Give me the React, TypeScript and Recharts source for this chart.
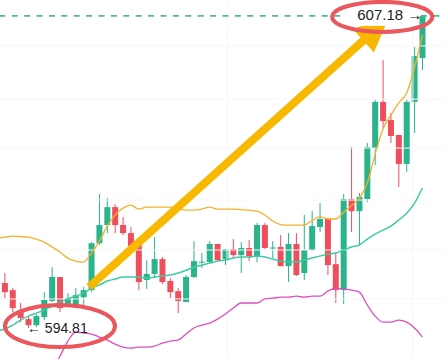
import {
  Bar,
  ComposedChart,
  Line,
  ReferenceDot,
  ReferenceLine,
  XAxis,
  YAxis,
} from "recharts";

// candles, oldest first
const opens = [
  596.59, 596.31, 595.52, 595.16, 594.92, 595.24, 595.88, 596.83, 595.72, 595.72,
  596.03, 596.31, 598.17, 598.89, 599.6, 598.89, 598.57, 598.1, 596.71, 596.95,
  597.54, 596.67, 596.27, 595.84, 596.83, 597.4, 597.42, 598.14, 597.54, 597.94,
  597.7, 597.98, 597.66, 598.89, 597.96, 598.02, 597.26, 598.14, 596.99, 597.9,
  598.81, 599.13, 597.34, 596.31, 599.92, 599.44, 599.92, 601.94, 603.77, 603.05,
  602.46, 601.31, 603.77, 605.51,
];
const highs = [
  596.99, 596.39, 595.8, 595.28, 595.36, 596.23, 597.22, 596.83, 596.19, 596.39,
  596.43, 598.21, 600.12, 599.96, 599.72, 599.21, 598.81, 598.1, 597.5, 598.41,
  597.62, 596.79, 596.39, 596.91, 598.25, 597.78, 598.25, 598.14, 597.94, 598.33,
  598.21, 598.29, 598.97, 598.97, 598.25, 598.49, 598.57, 598.57, 599.29, 599.44,
  599.76, 599.17, 597.78, 600.12, 601.98, 600.16, 602.14, 603.85, 605.43, 603.33,
  602.46, 603.85, 605.95, 607.18,
];
const lows = [
  595.99, 595.44, 595.04, 594.81, 594.84, 595.12, 595.84, 595.44, 595.64, 595.64,
  595.64, 596.23, 598.1, 598.57, 598.57, 598.49, 598.06, 596.31, 596.35, 596.79,
  596.55, 595.99, 595.4, 595.84, 596.79, 597.18, 597.38, 597.46, 597.3, 597.62,
  596.99, 597.46, 597.42, 597.94, 597.58, 597.26, 596.63, 596.87, 596.71, 597.86,
  598.61, 596.91, 595.8, 595.76, 598.61, 598.1, 599.8, 601.27, 602.73, 602.14,
  600.4, 600.99, 602.54, 605.03,
];
const closes = [
  596.23, 595.6, 595.2, 594.92, 595.28, 595.92, 596.83, 595.6, 595.99, 596.11,
  596.31, 598.17, 598.89, 599.6, 598.89, 598.57, 598.06, 596.63, 596.95, 597.54,
  596.63, 596.23, 595.88, 596.83, 597.46, 597.44, 598.14, 597.5, 597.94, 597.7,
  597.98, 597.66, 598.89, 597.98, 598.0, 597.26, 598.14, 596.91, 597.9, 598.85,
  599.13, 597.3, 596.31, 599.92, 599.44, 600.0, 601.98, 603.77, 603.01, 602.42,
  601.31, 603.77, 605.59, 607.18,
];

// overlay lines, one slot before the first candle
const orangeLine = [
  598.37, 598.41, 598.45, 598.43, 598.41, 598.33, 598.21, 598.02, 597.82, 597.58,
  597.46, 597.42, 597.78, 598.25, 598.85, 599.29, 599.56, 599.68, 599.52, 599.6,
  599.6, 599.6, 599.6, 599.56, 599.48, 599.48, 599.52, 599.6, 599.52, 599.52,
  599.52, 599.5, 599.48, 599.44, 599.29, 599.05, 598.91, 598.89, 598.89, 598.89,
  599.07, 599.21, 599.13, 599.13, 599.4, 599.66, 599.96, 600.55, 601.7, 602.7,
  603.25, 603.73, 604.12, 605.15, 606.42,
];
const tealLine = [
  594.69, 594.77, 594.92, 595.12, 595.28, 595.4, 595.52, 595.68, 595.84, 595.96,
  596.07, 596.19, 596.39, 596.51, 596.67, 596.75, 596.83, 596.83, 596.83, 596.79,
  596.83, 596.87, 596.91, 596.99, 597.1, 597.22, 597.3, 597.38, 597.46, 597.5,
  597.58, 597.62, 597.62, 597.66, 597.62, 597.54, 597.46, 597.42, 597.42, 597.5,
  597.58, 597.66, 597.74, 597.78, 597.9, 598.02, 598.1, 598.33, 598.53, 598.69,
  598.85, 599.09, 599.36, 599.76, 600.36,
];
const pinkLine = [
  null, null, null, null, null, null, 592.55, 593.18, 593.69, 594.29,
  594.65, 594.61, 594.57, 594.45, 594.33, 594.17, 594.05, 594.01, 594.05, 594.05,
  594.09, 594.21, 594.29, 594.33, 594.57, 594.81, 594.92, 595.0, 595.16, 595.36,
  595.6, 595.8, 595.8, 595.8, 595.96, 595.99, 596.03, 596.03, 596.07, 596.03,
  596.07, 596.07, 596.27, 596.39, 596.35, 596.31, 596.23, 595.72, 595.28, 595.04,
  595.04, 595.12, 595.04, 594.81, 594.45,
];

const gridPrices = [605.99, 603.88, 601.94, 599.88, 597.9, 595.96];
const gridSlots = [29.2, 52.8];

const highMark = 607.18;
const lowMark = 594.81;
const highLabelSlot = 48.9;
const lowLabelSlot = 8;
const arrowFrom = { x: 11.7, y: 596.43 };
const arrowTo = { x: 49.7, y: 607.1 };

const SLOTS = 58;
const GREEN = "#2bb38c";
const RED = "#ef4e5c";
const RING = "#ea575d";
const YELLOW = "#f9b800";
const FONT = "'Liberation Sans', Arial, sans-serif";

const rows = Array.from({ length: SLOTS }, (_, i) => {
  const k = i - 1;
  const has = k >= 0 && k < opens.length;
  return {
    i,
    open: has ? opens[k] : null,
    high: has ? highs[k] : null,
    low: has ? lows[k] : null,
    close: has ? closes[k] : null,
    orange: orangeLine[i] ?? null,
    teal: tealLine[i] ?? null,
    pink: pinkLine[i] ?? null,
  };
});

function Candle(props: any) {
  const { x, y, width, height, payload } = props;
  if (!payload || payload.open == null || typeof y !== "number") return <g />;
  const { open, close, high, low } = payload;
  const top = Math.min(y, y + height);
  const span = Math.abs(height);
  const ppu = high > low ? span / (high - low) : 0;
  const bodyTop = top + (high - Math.max(open, close)) * ppu;
  const bodyH = Math.max(1, Math.abs(open - close) * ppu);
  const color = close >= open ? GREEN : RED;
  const cx = x + width / 2;
  return (
    <g>
      <line x1={cx} x2={cx} y1={top} y2={top + span} stroke={color} strokeWidth={1} />
      <rect x={x} y={bodyTop} width={width} height={bodyH} fill={color} />
    </g>
  );
}

function TrendArrow(props: any) {
  const { x1, y1, x2, y2 } = props;
  const dx = x2 - x1;
  const dy = y2 - y1;
  const len = Math.hypot(dx, dy) || 1;
  const ux = dx / len;
  const uy = dy / len;
  const nx = -uy;
  const ny = ux;
  const headLen = 34;
  const headHalf = 16;
  const bx = x2 - ux * headLen;
  const by = y2 - uy * headLen;
  return (
    <g>
      <line x1={x1} y1={y1} x2={bx + ux * 2} y2={by + uy * 2} stroke={YELLOW} strokeWidth={8} />
      <polygon
        points={`${x2},${y2} ${bx + nx * headHalf},${by + ny * headHalf} ${bx - nx * headHalf},${by - ny * headHalf}`}
        fill={YELLOW}
      />
    </g>
  );
}

function HighLabel(props: any) {
  const { cx, cy } = props;
  if (typeof cx !== "number" || typeof cy !== "number") return <g />;
  return (
    <g>
      <rect x={cx - 40} y={cy - 9} width={76} height={19} fill="#fff" />
      <text x={cx - 25} y={cy + 4} fontSize={15} fill="#222" fontFamily={FONT}>
        {`${highMark.toFixed(2)} →`}
      </text>
      <ellipse cx={cx} cy={cy + 1} rx={50} ry={15} fill="none" stroke={RING} strokeWidth={4} />
    </g>
  );
}

function LowLabel(props: any) {
  const { cx, cy } = props;
  if (typeof cx !== "number" || typeof cy !== "number") return <g />;
  return (
    <g>
      <text x={cx - 33} y={cy + 5} fontSize={14} fill="#222" fontFamily={FONT}>
        {`← ${lowMark.toFixed(2)}`}
      </text>
      <ellipse cx={cx} cy={cy - 2} rx={55} ry={21} fill="none" stroke={RING} strokeWidth={4} />
    </g>
  );
}

export default function App() {
  return (
    <div
      style={{
        position: "absolute",
        left: 0,
        top: 0,
        width: 445,
        height: 359,
        overflow: "hidden",
        background: "#fff",
      }}
    >
      <div style={{ position: "absolute", left: -7, top: 0 }}>
        <ComposedChart
          width={457}
          height={359}
          data={rows}
          margin={{ top: 0, right: 0, bottom: 0, left: 0 }}
        >
          <XAxis
            type="number"
            dataKey="i"
            domain={[-0.5, SLOTS - 0.5]}
            hide
            allowDataOverflow
          />
          <YAxis type="number" domain={[593.58, 607.81]} hide allowDataOverflow />

          {gridPrices.map((p) => (
            <ReferenceLine key={`g${p}`} y={p} stroke="#f7f7f7" strokeWidth={1} />
          ))}
          {gridSlots.map((s) => (
            <ReferenceLine key={`v${s}`} x={s} stroke="#f7f7f7" strokeWidth={1} />
          ))}

          <Bar
            dataKey={(d: any) => (d.open == null ? null : [d.low, d.high])}
            barSize={6}
            shape={(p: any) => <Candle {...p} />}
            isAnimationActive={false}
          />

          <Line
            type="monotone"
            dataKey="orange"
            stroke="#f3b12c"
            strokeWidth={1.3}
            dot={false}
            activeDot={false}
            isAnimationActive={false}
          />
          <Line
            type="monotone"
            dataKey="teal"
            stroke="#3fcaa5"
            strokeWidth={1.5}
            dot={false}
            activeDot={false}
            isAnimationActive={false}
          />
          <Line
            type="monotone"
            dataKey="pink"
            stroke="#dd4fc6"
            strokeWidth={1.3}
            dot={false}
            activeDot={false}
            isAnimationActive={false}
          />

          <ReferenceLine
            y={highMark}
            stroke="#52b993"
            strokeWidth={1.6}
            strokeDasharray="6 6.4"
            strokeDashoffset={6.1}
          />

          <ReferenceLine
            segment={[arrowFrom, arrowTo]}
            shape={(p: any) => <TrendArrow {...p} />}
          />
          <ReferenceDot
            x={highLabelSlot}
            y={highMark}
            r={1}
            shape={(p: any) => <HighLabel {...p} />}
          />
          <ReferenceDot
            x={lowLabelSlot}
            y={lowMark}
            r={1}
            shape={(p: any) => <LowLabel {...p} />}
          />
        </ComposedChart>
      </div>
    </div>
  );
}
